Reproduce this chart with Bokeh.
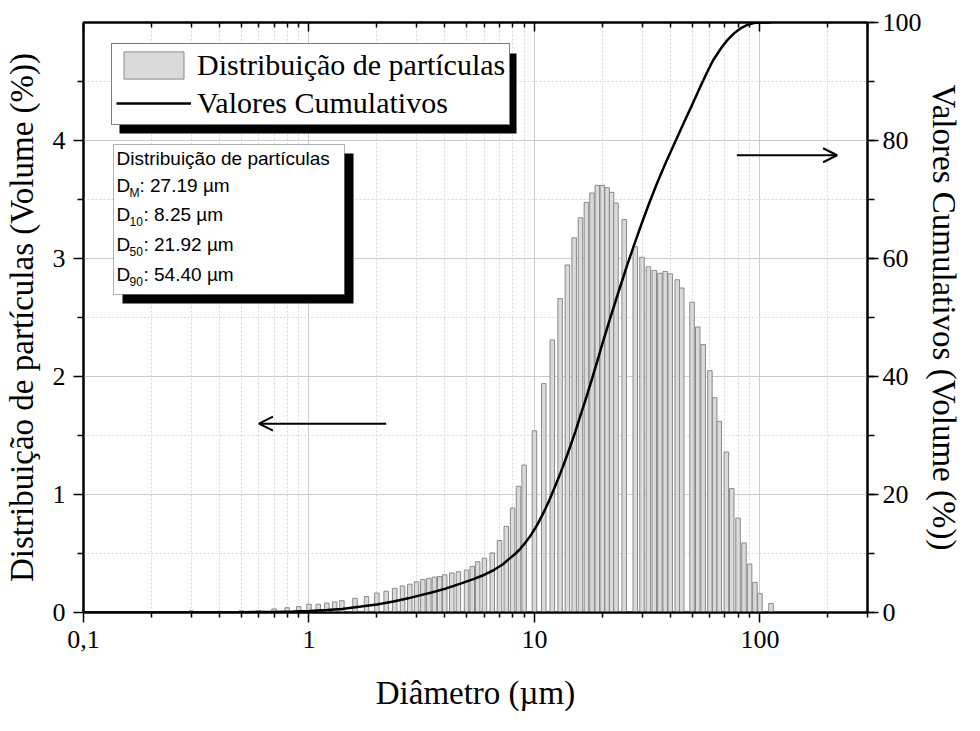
from bokeh.plotting import figure
from bokeh.models import (Range1d, LinearAxis, LogAxis, FixedTicker, SingleIntervalTicker,
                          CustomJSTickFormatter, Legend, LegendItem, BoxAnnotation, Label,
                          Arrow, OpenHead, ColumnDataSource)
from bokeh.embed import file_html
from bokeh.resources import INLINE

# ---------------- data ----------------
diam_classes = [0.3, 0.4, 0.5, 0.6, 0.7, 0.8, 0.9, 1.0, 1.1, 1.2, 1.3, 1.4, 1.6, 1.8,
                2.0, 2.2, 2.4, 2.6, 2.8, 3.0, 3.2, 3.4, 3.6, 3.8, 4.0, 4.3, 4.6, 5.0,
                5.3, 5.6, 6.0, 6.5, 7.0, 7.5, 8.0, 8.5, 9.0, 10, 11, 12, 13, 14, 15,
                16, 17, 18, 19, 20, 21, 22, 23, 25, 28, 30, 32, 34, 36, 38, 40, 43,
                45, 50, 53, 56, 60, 63, 66, 71, 75, 80, 85, 90, 95, 100, 112]
dist_volume = [0.015, 0.01, 0.015, 0.015, 0.03, 0.04, 0.05, 0.07, 0.07, 0.08, 0.09, 0.10,
               0.12, 0.135, 0.165, 0.18, 0.205, 0.225, 0.24, 0.26, 0.28, 0.29, 0.30, 0.305,
               0.32, 0.335, 0.345, 0.36, 0.39, 0.43, 0.46, 0.505, 0.61, 0.73, 0.885, 1.07,
               1.25, 1.54, 1.94, 2.31, 2.66, 2.945, 3.175, 3.345, 3.475, 3.555, 3.62, 3.62,
               3.60, 3.56, 3.47, 3.33, 3.10, 3.01, 2.93, 2.90, 2.875, 2.89, 2.87, 2.82,
               2.75, 2.63, 2.42, 2.27, 2.05, 1.82, 1.62, 1.36, 1.05, 0.80, 0.59, 0.41,
               0.255, 0.16, 0.076]

cum_diam = [0.1, 0.3, 0.5, 0.7, 0.85, 1.0, 1.2, 1.4, 1.7, 2.0, 2.4, 2.75, 3.1, 3.5,
            4.0, 4.7, 5.4, 6.0, 6.6, 7.2, 7.84, 8.25, 8.65, 9.1, 9.6, 10.3, 11.0, 11.6,
            12.2, 13.0, 13.7, 14.4, 15.2, 16.0, 17.0, 18.0, 19.0, 20.2, 21.92, 23.9,
            26.0, 28.2, 30.2, 32.3, 35, 38, 41, 44, 47, 50, 54.4, 58, 62, 67.7, 72,
            77, 82, 88, 94, 100, 112]
cum_volume = [0, 0, 0.05, 0.1, 0.15, 0.25, 0.42, 0.6, 1.0, 1.35, 1.9, 2.4, 2.9, 3.4,
              4.0, 4.9, 5.7, 6.4, 7.2, 8.1, 9.3, 10.0, 10.8, 11.8, 13.0, 14.9, 17.0, 18.9,
              20.9, 23.5, 25.8, 28.1, 30.7, 33.4, 36.5, 39.6, 42.6, 46.1, 50.5, 55.0,
              59.3, 63.2, 66.4, 69.4, 72.8, 76.0, 78.8, 81.4, 83.8, 86.0, 89.1, 91.4,
              93.6, 95.8, 97.1, 98.2, 99.0, 99.6, 99.9, 100, 100]

x_major_ticks = [0.1, 1, 10, 100]
x_minor_ticks = [0.2, 0.3, 0.4, 0.5, 0.6, 0.7, 0.8, 0.9,
                 2, 3, 4, 5, 6, 7, 8, 9,
                 20, 30, 40, 50, 60, 70, 80, 90, 200, 300]
y_major_ticks = [0, 1, 2, 3, 4]
y_minor_ticks = [0.5, 1.5, 2.5, 3.5, 4.5]

stats_title = "Distribuição de partículas"
stats_names = ["M", "10", "50", "90"]
stats_values = ["27.19", "8.25", "21.92", "54.40"]

SERIF = "Liberation Serif"
SANS = "Liberation Sans"

# ---------------- figure ----------------
p = figure(width=964, height=715, x_axis_type="log",
           x_range=Range1d(0.1, 300), y_range=Range1d(0, 5),
           output_backend="svg", toolbar_location=None,
           min_border_left=80, min_border_right=92, min_border_top=22, min_border_bottom=103)
p.extra_y_ranges = {"cum": Range1d(0, 100)}
p.background_fill_color = "white"
p.border_fill_color = "white"
p.outline_line_color = "black"
p.outline_line_width = 2

# grids
for g in (p.xgrid, p.ygrid):
    g.grid_line_color = "#cccccc"
    g.grid_line_width = 1
    g.minor_grid_line_color = "#d6d6d6"
    g.minor_grid_line_dash = "2 2"
    g.minor_grid_line_width = 1

xt = FixedTicker(ticks=x_major_ticks, minor_ticks=x_minor_ticks)

def style_axis(ax, label_size="33px"):
    ax.axis_line_width = 2
    ax.axis_line_color = "black"
    ax.major_tick_line_width = 1.5
    ax.minor_tick_line_width = 1.5
    ax.major_label_text_font = SERIF
    ax.major_label_text_font_size = "26px"
    ax.major_label_text_color = "black"
    ax.axis_label_text_font = SERIF
    ax.axis_label_text_font_size = label_size
    ax.axis_label_text_font_style = "normal"
    ax.axis_label_text_color = "black"

# bottom axis
xa = p.xaxis[0]
xa.ticker = xt
xa.formatter = CustomJSTickFormatter(code="return tick < 1 ? String(tick).replace('.', ',') : String(tick);")
style_axis(xa)
xa.major_tick_out = 10
xa.major_tick_in = 0
xa.minor_tick_out = 5
xa.minor_tick_in = 0
xa.major_label_standoff = 8
xa.axis_label = "Diâmetro (µm)"
xa.axis_label_standoff = 24

# top axis (frame with ticks)
ta = LogAxis(ticker=xt, formatter=CustomJSTickFormatter(code="return '';"))
style_axis(ta)
ta.major_tick_in = 9
ta.major_tick_out = 0
ta.minor_tick_in = 5
ta.minor_tick_out = 0
ta.major_label_standoff = 0
p.add_layout(ta, "above")

# left axis
ya = p.yaxis[0]
ya.ticker = FixedTicker(ticks=y_major_ticks, minor_ticks=y_minor_ticks)
style_axis(ya)
ya.major_tick_out = 10
ya.major_tick_in = 0
ya.minor_tick_out = 6
ya.minor_tick_in = 0
ya.major_label_standoff = 8
ya.axis_label = "Distribuição de partículas (Volume (%))"
ya.axis_label_standoff = 10

# right axis
ra = LinearAxis(y_range_name="cum", ticker=SingleIntervalTicker(interval=20, num_minor_ticks=2))
style_axis(ra, "33px")
ra.major_tick_out = 11
ra.major_tick_in = 0
ra.minor_tick_out = 7
ra.minor_tick_in = 0
ra.major_label_standoff = 4
ra.axis_label = "Valores Cumulativos (Volume (%))"
ra.axis_label_standoff = 1
p.add_layout(ra, "right")

# ---------------- glyphs ----------------
src = ColumnDataSource(dict(x=diam_classes, y=[v / 2 for v in dist_volume], h=dist_volume))
bars = p.rect(x="x", y="y", width=4.5, height="h", width_units="screen", source=src,
              fill_color="#dadada", line_color="#8a8a8a", line_width=1)
cum = p.line(cum_diam, cum_volume, y_range_name="cum", line_color="black", line_width=2.5)

# ---------------- annotations ----------------
def sbox(l, r, t, b, **kw):
    return BoxAnnotation(left=l, right=r, top=t, bottom=b,
                         left_units="screen", right_units="screen",
                         top_units="screen", bottom_units="screen", **kw)

# legend shadow + legend
p.add_layout(sbox(36, 433, 559, 479, fill_color="black", fill_alpha=1, line_color=None))
legend = Legend(items=[LegendItem(label="Distribuição de partículas", renderers=[bars]),
                       LegendItem(label="Valores Cumulativos", renderers=[cum])],
                location=(28, 487), margin=0, padding=4, spacing=4,
                glyph_width=75, glyph_height=34, label_height=34, label_standoff=6,
                label_text_font=SERIF, label_text_font_size="30px", label_text_color="black",
                border_line_color="black", border_line_width=1,
                background_fill_color="white", background_fill_alpha=1)
p.add_layout(legend)

# stats box shadow + box
p.add_layout(sbox(39, 270, 459, 309, fill_color="black", fill_alpha=1, line_color=None))
p.add_layout(sbox(30, 261, 468, 318, fill_color="white", fill_alpha=1,
                  line_color="black", line_width=1))
p.add_layout(Label(x=33, y=454, x_units="screen", y_units="screen", text=stats_title,
                   text_font=SANS, text_font_size="19px", text_baseline="middle",
                   text_color="black"))
row_y = [427, 398, 368, 338]
for i, (nm, val) in enumerate(zip(stats_names, stats_values)):
    yy = row_y[i]
    p.add_layout(Label(x=33, y=yy, x_units="screen", y_units="screen", text="D",
                       text_font=SANS, text_font_size="19px", text_baseline="middle",
                       text_color="black"))
    p.add_layout(Label(x=46, y=yy - 7, x_units="screen", y_units="screen", text=nm,
                       text_font=SANS, text_font_size="12px", text_baseline="middle",
                       text_color="black"))
    offs = 46 + (10 if nm == "M" else 14)
    p.add_layout(Label(x=offs, y=yy, x_units="screen", y_units="screen",
                       text=": " + val + " µm",
                       text_font=SANS, text_font_size="19px", text_baseline="middle",
                       text_color="black"))

# arrows
p.add_layout(Arrow(end=OpenHead(size=14, line_width=2), x_start=2.2, y_start=1.6,
                   x_end=0.6, y_end=1.6, line_width=2))
p.add_layout(Arrow(end=OpenHead(size=14, line_width=2), x_start=79, y_start=77.5,
                   x_end=220, y_end=77.5, line_width=2, y_range_name="cum"))

open("out.html", "w").write(file_html(p, INLINE))
